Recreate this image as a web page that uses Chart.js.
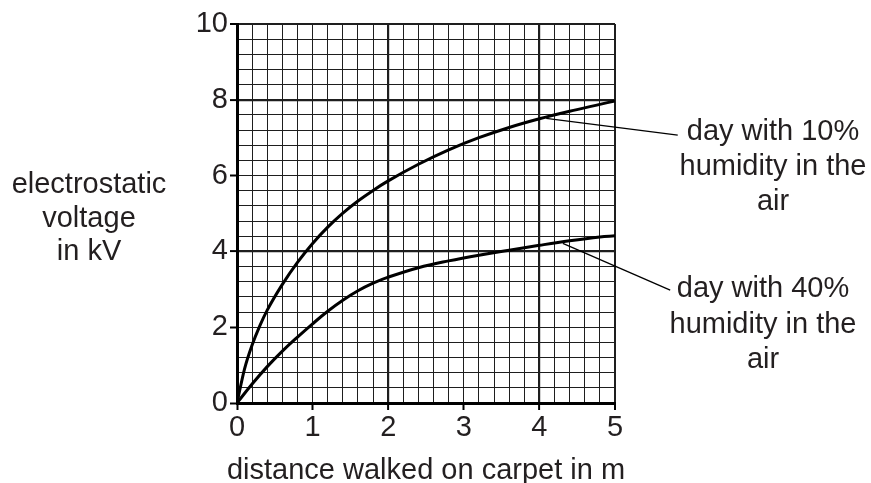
<!DOCTYPE html>
<html>
<head>
<meta charset="utf-8">
<script src="https://cdn.jsdelivr.net/npm/chart.js@4"></script>
<style>
  html, body { margin: 0; padding: 0; background: #fff; }
  #wrap { width: 871px; height: 483px; position: relative; }
</style>
</head>
<body>
<div id="wrap"><canvas id="c" width="871" height="483"></canvas></div>
<script>
// ---- data ----
const distance = [0, 0.1, 0.2, 0.3, 0.4, 0.6, 0.8, 1.0, 1.2, 1.4, 1.6, 1.8, 2.0, 2.4, 2.8, 3.2, 3.6, 4.0, 4.4, 4.8, 5.0];
const humidity10 = [0, 0.9, 1.53, 2.03, 2.45, 3.13, 3.71, 4.21, 4.64, 5.01, 5.33, 5.61, 5.86, 6.3, 6.68, 7.0, 7.27, 7.5, 7.7, 7.88, 7.97];
const distance40 = [0, 0.2, 0.4, 0.6, 0.8, 1.0, 1.2, 1.4, 1.6, 1.8, 2.0, 2.4, 2.8, 3.2, 3.6, 4.0, 4.4, 4.8, 5.0];
const humidity40 = [0, 0.5, 0.96, 1.37, 1.74, 2.09, 2.42, 2.71, 2.96, 3.16, 3.32, 3.57, 3.75, 3.9, 4.03, 4.16, 4.28, 4.38, 4.41];
const leader10 = [[4.09, 7.51], [5.83, 7.07]];
const leader40 = [[4.31, 4.21], [5.73, 2.98]];
const xTickLabels = [0, 1, 2, 3, 4, 5];
const yTickLabels = [0, 2, 4, 6, 8, 10];
const xTitle = "distance walked on carpet in m";
const yTitle = ["electrostatic", "voltage", "in kV"];
const label10 = ["day with 10%", "humidity in the", "air"];
const label40 = ["day with 40%", "humidity in the", "air"];

const FONT = "'Liberation Sans', Arial, sans-serif";
const TEXT = '#231f20';
const near = (v, list) => list.some(t => Math.abs(v - t) < 1e-6);

const toPts = (xs, ys) => xs.map((x, i) => ({x, y: ys[i]}));

const textPlugin = {
  id: 'texts',
  afterDraw(chart) {
    const ctx = chart.ctx;
    const ca = chart.chartArea;
    ctx.save();
    ctx.fillStyle = TEXT;
    ctx.font = '29px ' + FONT;
    ctx.textAlign = 'center';
    ctx.textBaseline = 'alphabetic';
    // x title
    ctx.fillText(xTitle, (ca.left + ca.right) / 2, 479);
    // y title
    yTitle.forEach((t, i) => ctx.fillText(t, 89, 193 + i * 33.5));
    // annotations
    label10.forEach((t, i) => ctx.fillText(t, 773, 140 + i * 35));
    label40.forEach((t, i) => ctx.fillText(t, 763, 297 + i * 35.5));
    ctx.restore();
  }
};

new Chart(document.getElementById('c'), {
  type: 'line',
  data: {
    datasets: [
      { label: '10%', data: toPts(distance, humidity10), borderColor: '#000', borderWidth: 3, pointRadius: 0, cubicInterpolationMode: 'monotone', fill: false },
      { label: '40%', data: toPts(distance40, humidity40), borderColor: '#000', borderWidth: 3, pointRadius: 0, tension: 0.4, fill: false },
      { label: 'l10', data: leader10.map(p => ({x: p[0], y: p[1]})), borderColor: '#000', borderWidth: 1.3, pointRadius: 0, tension: 0, clip: false },
      { label: 'l40', data: leader40.map(p => ({x: p[0], y: p[1]})), borderColor: '#000', borderWidth: 1.3, pointRadius: 0, tension: 0, clip: false }
    ]
  },
  options: {
    responsive: false,
    animation: false,
    devicePixelRatio: 1,
    layout: { padding: { left: 0, right: 256, top: 24, bottom: 0 } },
    plugins: { legend: { display: false }, tooltip: { enabled: false }, title: { display: false } },
    scales: {
      x: {
        type: 'linear', min: 0, max: 5,
        afterFit: s => { s.height = 80; },
        ticks: {
          stepSize: 0.2, autoSkip: false, maxRotation: 0, padding: 1,
          color: TEXT, font: { family: FONT, size: 29 },
          callback: v => near(v, xTickLabels) ? String(Math.round(v)) : ''
        },
        grid: {
          drawTicks: true, tickLength: 7,
          color: '#1e1e1e',
          lineWidth: c => near(c.tick.value, [2, 4]) ? 2.2 : (near(c.tick.value, [5]) ? 2 : 1),
          tickColor: c => near(c.tick.value, xTickLabels) ? '#000' : 'rgba(0,0,0,0)',
          tickWidth: 2
        },
        border: { display: true, color: '#000', width: 3 }
      },
      y: {
        type: 'linear', min: 0, max: 10,
        afterFit: s => { s.width = 237; },
        ticks: {
          stepSize: 0.4, autoSkip: false, padding: 2,
          color: TEXT, font: { family: FONT, size: 29 },
          callback: v => near(v, yTickLabels) ? String(Math.round(v)) : ''
        },
        grid: {
          drawTicks: true, tickLength: 7,
          color: '#1e1e1e',
          lineWidth: c => near(c.tick.value, [4, 8]) ? 2.2 : (near(c.tick.value, [10]) ? 2 : 1),
          tickColor: c => near(c.tick.value, yTickLabels) ? '#000' : 'rgba(0,0,0,0)',
          tickWidth: 2
        },
        border: { display: true, color: '#000', width: 3 }
      }
    }
  },
  plugins: [textPlugin]
});
</script>
</body>
</html>
